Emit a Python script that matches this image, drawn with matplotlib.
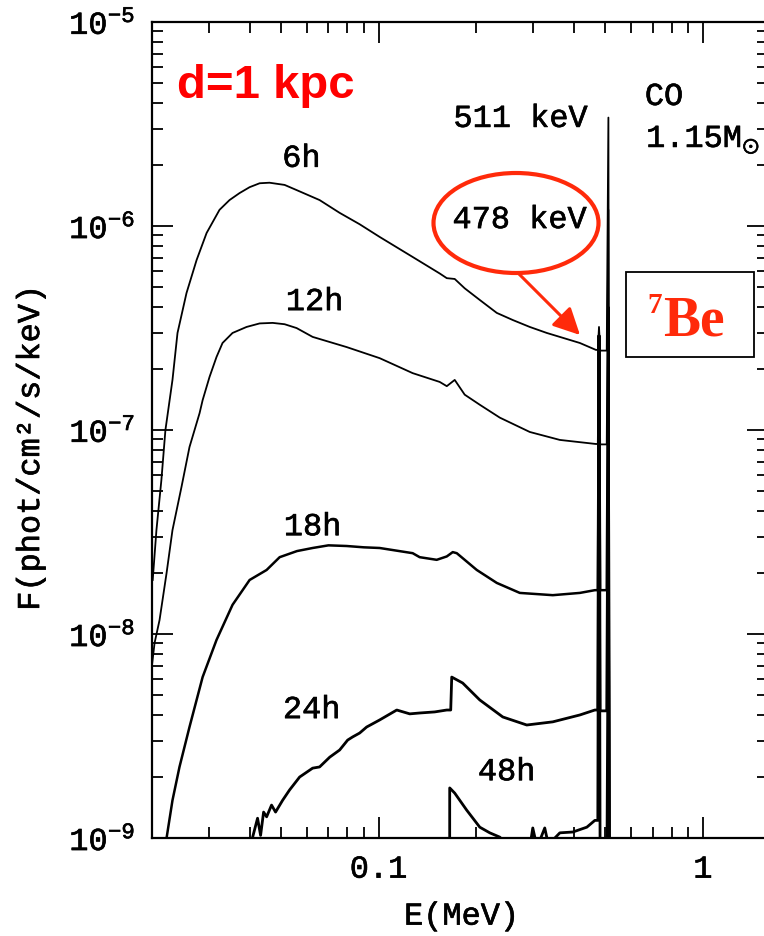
import numpy as np
import matplotlib
matplotlib.use("Agg")
import matplotlib.pyplot as plt
import matplotlib.patheffects as pe
from matplotlib.patches import Ellipse, Rectangle
from matplotlib.ticker import FuncFormatter, NullFormatter, LogLocator

plt.rcParams['font.family'] = ['Liberation Mono', 'DejaVu Sans']
plt.rcParams['mathtext.default'] = 'regular'

# continuum spectra (E in MeV, F in phot/cm2/s/keV)
e_6h = [0.0201, 0.02064, 0.02138, 0.0220, 0.02313, 0.02397, 0.02555, 0.02745, 0.02947,
        0.0323, 0.03468, 0.03724, 0.0400, 0.04295, 0.04606, 0.05128, 0.05584, 0.06574,
        0.0758, 0.08737, 0.1007, 0.1273, 0.1543, 0.1622, 0.1716, 0.1842, 0.2050, 0.2313,
        0.2592, 0.2924, 0.3300, 0.4173, 0.4676]
f_6h = [1.84e-8, 3.23e-8, 5.69e-8, 1.0e-7, 1.76e-7, 2.99e-7, 4.69e-7, 6.81e-7, 9.24e-7,
        1.20e-6, 1.34e-6, 1.45e-6, 1.55e-6, 1.62e-6, 1.63e-6, 1.59e-6, 1.50e-6, 1.34e-6,
        1.16e-6, 1.02e-6, 8.84e-7, 7.05e-7, 5.85e-7, 5.55e-7, 5.50e-7, 4.95e-7, 4.34e-7, 3.75e-7,
        3.46e-7, 3.20e-7, 2.99e-7, 2.67e-7, 2.47e-7]

e_12h = [0.0200, 0.02037, 0.0211, 0.02218, 0.02313, 0.02466, 0.0261, 0.02804, 0.02865,
         0.03009, 0.03162, 0.0330, 0.03543, 0.03914, 0.04295, 0.0471, 0.05128, 0.05584,
         0.06257, 0.07965, 0.1007, 0.1273, 0.1543, 0.1622, 0.1716, 0.1842, 0.2050, 0.2363,
         0.2924, 0.3620, 0.4676]
f_12h = [7.05e-9, 9.04e-9, 1.17e-8, 1.99e-8, 3.23e-8, 5.26e-8, 8.25e-8, 1.21e-7, 1.40e-7,
         1.82e-7, 2.28e-7, 2.67e-7, 2.99e-7, 3.20e-7, 3.33e-7, 3.35e-7, 3.30e-7, 3.16e-7,
         2.86e-7, 2.55e-7, 2.25e-7, 1.90e-7, 1.72e-7, 1.64e-7, 1.76e-7, 1.49e-7, 1.33e-7, 1.15e-7,
         9.78e-8, 8.94e-8, 8.54e-8]

e_18h = [0.0215, 0.02218, 0.02313, 0.02431, 0.0261, 0.02865, 0.03162, 0.03543, 0.0400, 0.04513,
         0.04951, 0.0560, 0.06257, 0.0700, 0.07965, 0.0900, 0.1007, 0.1273, 0.1338, 0.1510,
         0.1622, 0.1692, 0.1741, 0.2007, 0.2313, 0.2724, 0.3443, 0.4173, 0.4642]
f_18h = [7e-10, 1.0e-9, 1.53e-9, 2.23e-9, 3.5e-9, 6.15e-9, 9.35e-9, 1.39e-8, 1.84e-8, 2.06e-8,
         2.38e-8, 2.55e-8, 2.64e-8, 2.72e-8, 2.70e-8, 2.66e-8, 2.64e-8, 2.49e-8, 2.38e-8, 2.31e-8,
         2.40e-8, 2.52e-8, 2.49e-8, 2.06e-8, 1.78e-8, 1.59e-8, 1.55e-8, 1.59e-8, 1.64e-8]

e_24h = [0.0400, 0.04087, 0.04232, 0.04324, 0.04417, 0.04513, 0.04674, 0.04809, 0.05055,
         0.05312, 0.05705, 0.06257, 0.06574, 0.07064, 0.0758, 0.08023, 0.08314, 0.08737,
         0.09183, 0.1007, 0.1137, 0.1247, 0.1338, 0.1489, 0.1622, 0.1668, 0.1680, 0.1816,
         0.2050, 0.2414, 0.2862, 0.3443, 0.4173, 0.4642]
f_24h = [7e-10, 1.01e-9, 1.25e-9, 1.03e-9, 1.34e-9, 1.27e-9, 1.45e-9, 1.34e-9, 1.53e-9,
         1.72e-9, 1.99e-9, 2.20e-9, 2.23e-9, 2.49e-9, 2.70e-9, 3.02e-9, 3.13e-9, 3.27e-9,
         3.50e-9, 3.79e-9, 4.24e-9, 4.06e-9, 4.10e-9, 4.15e-9, 4.24e-9, 4.24e-9, 6.15e-9, 5.75e-9,
         4.75e-9, 3.92e-9, 3.58e-9, 3.71e-9, 4.01e-9, 4.24e-9]

e_48h = [0.1655, 0.1656, 0.1716, 0.1868, 0.2050, 0.2201, 0.2363, 0.2537, 0.2924, 0.2987,
         0.3080, 0.3252, 0.3350, 0.3494, 0.3620, 0.3970, 0.4385, 0.4642]
f_48h = [1e-10, 1.76e-9, 1.66e-9, 1.37e-9, 1.13e-9, 1.06e-9, 1.01e-9, 9e-10, 9e-10, 1.12e-9,
         9e-10, 1.12e-9, 9e-10, 1.0e-9, 1.06e-9, 1.07e-9, 1.13e-9, 1.22e-9]

# gamma-ray lines: 7Be (478 keV) and annihilation (511 keV)
e_lines = [0.474, 0.478, 0.482, 0.505, 0.511, 0.517]
peak_478 = [3.2e-7, 3.0e-7, 2.9e-7, 2.9e-7, 2.9e-7]
peak_511 = [3.4e-6, 1.2e-6, 4.0e-7, 1.5e-7, 2.0e-8]
between = [2.45e-7, 8.5e-8, 1.64e-8, 4.2e-9, 5e-10]

conts = [(e_6h, f_6h), (e_12h, f_12h), (e_18h, f_18h), (e_24h, f_24h), (e_48h, f_48h)]
widths = [1.3, 1.3, 1.8, 2.0, 2.0]

red = '#ff2a0a'
bold_ink = [pe.withStroke(linewidth=0.45, foreground='black')]

fig = plt.figure(figsize=(7.64, 9.36), dpi=100)
ax = fig.add_axes([152 / 764, 98 / 936, 616 / 764, 816 / 936])

for i, (ee, ff) in enumerate(conts):
    e = list(ee) + e_lines
    f = list(ff) + [ff[-1], peak_478[i], between[i], between[i], peak_511[i], 1e-11]
    ax.plot(e, f, color='black', lw=widths[i])

ax.set_xscale('log')
ax.set_yscale('log')
ax.set_xlim(0.02, 1.587)
ax.set_ylim(1e-9, 1e-5)

ax.xaxis.set_minor_locator(LogLocator(subs=np.arange(2, 10)))
ax.xaxis.set_minor_formatter(NullFormatter())
ax.xaxis.set_major_formatter(FuncFormatter(lambda v, _: '%g' % v))
ax.yaxis.set_minor_formatter(NullFormatter())
ax.yaxis.set_major_formatter(FuncFormatter(lambda v, _: '10$^{%d}$' % round(np.log10(v))))

ax.tick_params(which='both', direction='in', top=True, right=True, width=1.3, labelsize=23)
ax.tick_params(which='major', length=15, pad=12)
ax.tick_params(which='minor', length=8)
for s in ax.spines.values():
    s.set_linewidth(1.6)
for t in ax.get_xticklabels() + ax.get_yticklabels():
    t.set_path_effects(bold_ink)

ax.set_xlabel('E(MeV)', fontsize=23, path_effects=bold_ink)
ax.xaxis.set_label_coords(0.503, -0.078)
ax.set_ylabel('F(phot/cm²/s/keV)', fontsize=23, path_effects=bold_ink)
ax.yaxis.set_label_coords(-0.172, 0.479)

# curve and line labels
txt = dict(fontsize=23, va='baseline', path_effects=bold_ink)
ax.text(0.0578, 1.95e-6, '6h', ha='center', **txt)
ax.text(0.0635, 3.87e-7, '12h', ha='center', **txt)
ax.text(0.0626, 3.05e-8, '18h', ha='center', **txt)
ax.text(0.0622, 3.87e-9, '24h', ha='center', **txt)
ax.text(0.2483, 1.92e-9, '48h', ha='center', **txt)
ax.text(0.2744, 3.06e-6, '511 keV', ha='center', **txt)
ax.text(0.2725, 9.77e-7, '478 keV', ha='center', **txt)
ax.text(0.662, 3.92e-6, 'CO', ha='left', **txt)
ax.text(0.668, 2.44e-6, r'1.15M$_{\odot}$', ha='left', **txt)

# red annotations
fig.text(177 / 764, 1 - 98 / 936, 'd=1 kpc', family='Liberation Sans', weight='bold',
         size=34, color='red', ha='left', va='baseline')
fig.add_artist(Ellipse((516 / 764, 1 - 223 / 936), 165 / 764, 100 / 936,
                       transform=fig.transFigure, fill=False, ec=red, lw=3))
ax.annotate('', xy=(580 / 764, 1 - 335 / 936), xycoords='figure fraction',
            xytext=(519 / 764, 1 - 274 / 936), textcoords='figure fraction',
            arrowprops=dict(arrowstyle='-|>,head_length=0.9,head_width=0.45', color=red,
                            lw=2.2, mutation_scale=18, shrinkA=0, shrinkB=0))
fig.add_artist(Rectangle((626 / 764, 1 - 357 / 936), 128 / 764, 85 / 936,
                         transform=fig.transFigure, fill=False, ec='black', lw=1.3))
fig.text(663 / 764, 1 - 335 / 936, 'Be', family='Liberation Serif', weight='bold',
         size=40, color=red, ha='left', va='baseline')
fig.text(647 / 764, 1 - 313 / 936, '7', family='Liberation Serif', weight='bold',
         size=21, color=red, ha='left', va='baseline')

fig.savefig('out.png', dpi=100)
